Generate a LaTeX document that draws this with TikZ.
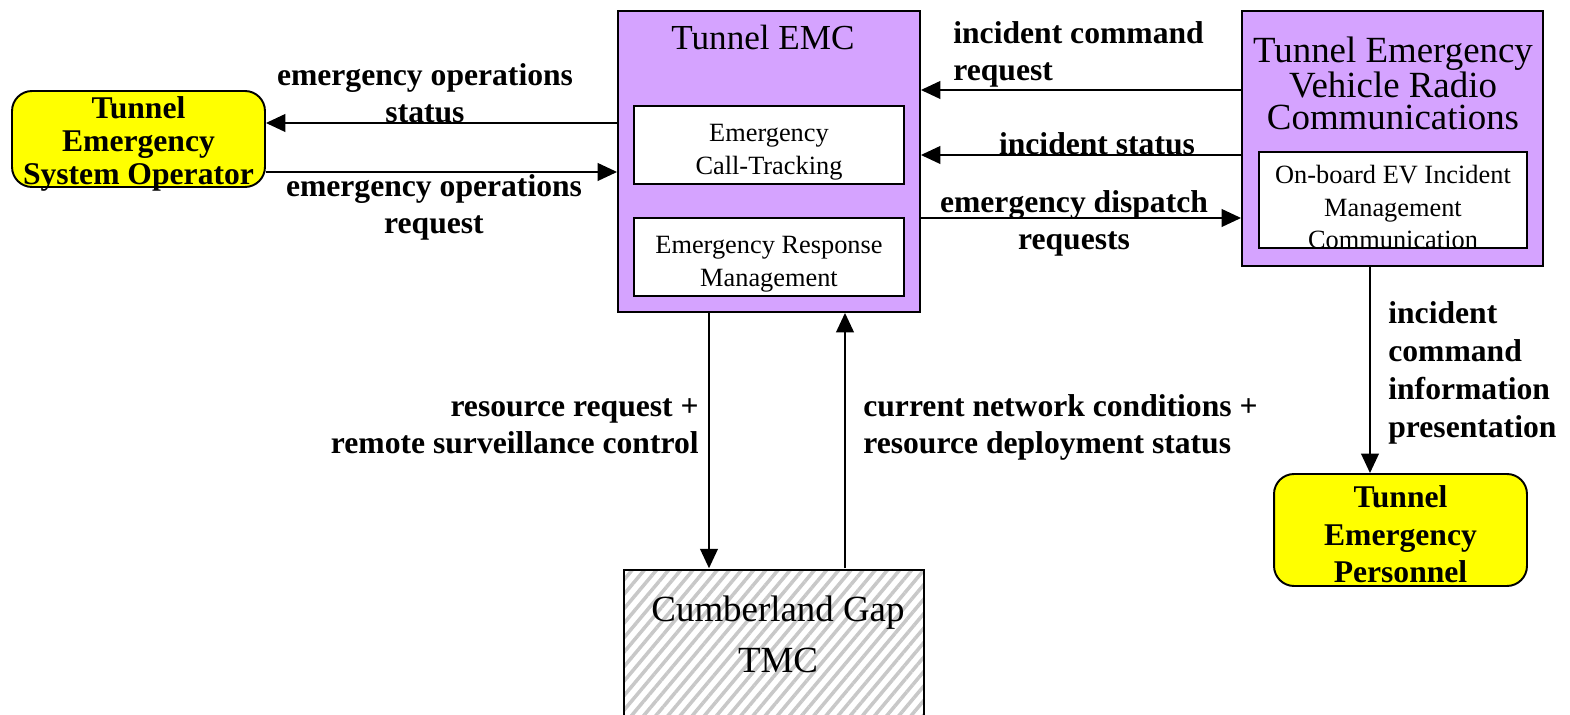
\documentclass[tikz,border=0pt]{standalone}
\usepackage{fontspec}
\setmainfont{Liberation Serif}
\usepackage{xcolor}
\usetikzlibrary{arrows.meta, positioning, patterns.meta}
\definecolor{emcpurple}{HTML}{D5A3FF}
\definecolor{termyellow}{HTML}{FFFF00}
\definecolor{hatchgray}{HTML}{C8C8C8}

\begin{document}
\begin{tikzpicture}[x=0.02cm, y=-0.02cm,
    centerbox/.style={draw, line width=1.1pt, fill=emcpurple, inner sep=0pt},
    subbox/.style={draw, line width=1.1pt, fill=white, inner sep=0pt, minimum width=5.4cm,
        label={[align=center, yshift=-4pt, font=\fontsize{15}{18.5}\selectfont]center:#1}},
    terminator/.style={draw, line width=1.1pt, fill=termyellow, rounded corners=0.4cm,
        inner sep=0pt, minimum width=5.06cm},
    flowlabel/.style={inner sep=0pt, font=\bfseries\fontsize{18}{21}\selectfont},
    flow/.style={line width=1.1pt, -{Triangle[length=11pt, width=10pt]}}]
    \useasboundingbox (0,0) rectangle (1570,715);

    % Centers and terminators
    \node[centerbox, minimum width=6.04cm, minimum height=6.02cm] (emc) at (769,161.5) {};
    \node[inner sep=0pt, font=\fontsize{20}{24}\selectfont] (emctitle) at (763,37) {Tunnel EMC};
    \node[subbox={Emergency\\Call-Tracking}, minimum height=1.56cm] (calltrack) at (769,145) {};
    \node[subbox={Emergency Response\\Management}, minimum height=1.56cm] (respmgmt) at (769,257) {};

    \node[centerbox, minimum width=6.02cm, minimum height=5.1cm] (radio) at (1392.5,138.5) {};
    \node[inner sep=0pt, align=center, font=\fontsize{21}{18}\selectfont] (radiotitle) at (1393,83)
        {Tunnel Emergency\\Vehicle Radio\\Communications};
    \node[subbox={On-board EV Incident\\Management\\Communication}, minimum width=5.36cm,
        minimum height=1.92cm] (onboard) at (1393,200) {};

    \node[draw, line width=1.1pt, preaction={fill=white}, minimum width=6cm, minimum height=3.2cm,
        pattern={Lines[angle=50, distance=5.3pt, line width=2pt]}, pattern color=hatchgray] (tmc) at (774,650) {};
    \node[inner sep=0pt, align=center, font=\fontsize{21}{29}\selectfont] (tmctext) at (778,634)
        {Cumberland Gap\\TMC};

    \node[terminator, minimum height=1.92cm,
        label={[align=center, yshift=-3pt, font=\bfseries\fontsize{18}{18.7}\selectfont]center:Tunnel\\Emergency\\System Operator}]
        (operator) at (138.5,139) {};
    \node[terminator, minimum height=2.24cm,
        label={[align=center, yshift=-2.5pt, font=\bfseries\fontsize{18}{21.5}\selectfont]center:Tunnel\\Emergency\\Personnel}]
        (personnel) at (1400.5,530) {};

    % Flows
    \draw[flow] (emc.west |- 0,123) -- (operator.east |- 0,123);
    \draw[flow] (operator.east |- 0,172) -- (emc.west |- 0,172);
    \draw[flow] (radio.west |- 0,90) -- (emc.east |- 0,90);
    \draw[flow] (radio.west |- 0,155) -- (emc.east |- 0,155);
    \draw[flow] (emc.east |- 0,218) -- (radio.west |- 0,218);
    \draw[flow] (radio.south -| 1370,0) -- (personnel.north -| 1370,0);
    \draw[flow] (emc.south -| 709,0) -- (tmc.north -| 709,0);
    \draw[flow] (tmc.north -| 845,0) -- (emc.south -| 845,0);

    % Flow labels
    \node[flowlabel, align=center] (opstatus) at (425,93) {emergency operations\\status};
    \node[flowlabel, align=center] (opreq) at (434,207.5) {emergency operations\\request};
    \node[flowlabel, align=left, anchor=west] (cmdreq) at (953,54.5) {incident command\\request};
    \node[flowlabel] (incstatus) at (1097,144) {incident status};
    \node[flowlabel, align=center] (dispatch) at (1074,223.5) {emergency dispatch\\requests};
    \node[flowlabel, align=left, anchor=west, font=\bfseries\fontsize{18}{21.5}\selectfont] (cmdinfo) at (1388,373)
        {incident\\command\\information\\presentation};
    \node[flowlabel, align=right, anchor=east] (resreq) at (699,426)
        {resource request +\\remote surveillance control};
    \node[flowlabel, align=left, anchor=west] (netcond) at (863,427)
        {current network conditions +\\resource deployment status};
\end{tikzpicture}
\end{document}
